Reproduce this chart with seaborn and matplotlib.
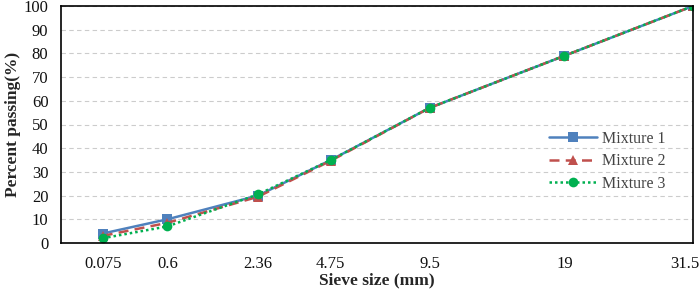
import numpy as np
import pandas as pd
import matplotlib
matplotlib.use("Agg")
import matplotlib.pyplot as plt
import matplotlib.transforms as mtransforms
import seaborn as sns

sieve = [0.075, 0.6, 2.36, 4.75, 9.5, 19, 31.5]
tick_labels = ["0.075", "0.6", "2.36", "4.75", "9.5", "19", "31.5"]
mix1 = [4.0, 10.0, 20.0, 35.0, 57.0, 79.0, 100.0]
mix2 = [3.0, 8.5, 19.5, 34.7, 57.0, 79.0, 100.0]
mix3 = [2.0, 7.0, 20.5, 35.0, 57.0, 79.0, 100.0]
series = ["Mixture 1", "Mixture 2", "Mixture 3"]

rows = []
for name, vals in zip(series, [mix1, mix2, mix3]):
    for s, v in zip(sieve, vals):
        rows.append({"Sieve": s, "Passing": v, "Mixture": name})
df = pd.DataFrame(rows)

sns.set_style("white")
plt.rcParams["font.family"] = ["Liberation Serif", "DejaVu Serif"]

fig = plt.figure(figsize=(6.99, 2.91), dpi=100)
ax = fig.add_axes([61/699, 1-243/291, 632/699, 237/291])

p = 0.45
ax.set_xscale("function", functions=(lambda x: np.sign(x)*np.abs(x)**p,
                                     lambda y: np.sign(y)*np.abs(y)**(1/p)))

colors = {"Mixture 1": "#4F81BD", "Mixture 2": "#C0504D", "Mixture 3": "#00B050"}
styles = {"Mixture 1": "-", "Mixture 2": (0, (4, 2.5)), "Mixture 3": (0, (1, 1.2))}
markers = {"Mixture 1": "s", "Mixture 2": "^", "Mixture 3": "o"}

for name in series:
    sub = df[df["Mixture"] == name]
    sns.lineplot(data=sub, x="Sieve", y="Passing", ax=ax, color=colors[name],
                 linestyle=styles[name], marker=markers[name], markersize=7,
                 markeredgewidth=0, linewidth=1.8, label=name)

ax.set_xlim(0, 31.5)
ax.set_ylim(0, 100)
ax.set_xticks(sieve)
ax.set_xticklabels(tick_labels)
ax.set_yticks(range(0, 101, 10))
ax.tick_params(axis="both", labelsize=12, length=0, colors="#111111")
ax.tick_params(axis="y", pad=9)
ax.tick_params(axis="x", pad=9)
ax.yaxis.grid(True, linestyle=(0, (4, 3)), color="#CCCCCC", linewidth=0.8)
ax.xaxis.grid(False)
for sp in ax.spines.values():
    sp.set_color("black")
    sp.set_linewidth(1.2)

# last tick label kept inside the figure, as in the reference
last = ax.get_xticklabels()[-1]
last.set_horizontalalignment("right")
last.set_transform(last.get_transform() +
                   mtransforms.ScaledTranslation(6/100, 0, fig.dpi_scale_trans))

ax.set_xlabel("Sieve size (mm)", fontsize=12.5, fontweight="bold", labelpad=1)
ax.set_ylabel("Percent passing(%)", fontsize=12.5, fontweight="bold", labelpad=2)

leg = ax.legend(loc="center left", bbox_to_anchor=(0.75, 0.345), frameon=False,
                fontsize=11.5, handlelength=3.0, handletextpad=0.3,
                labelspacing=0.4, labelcolor="#444444")

fig.savefig("out.png", dpi=100)
